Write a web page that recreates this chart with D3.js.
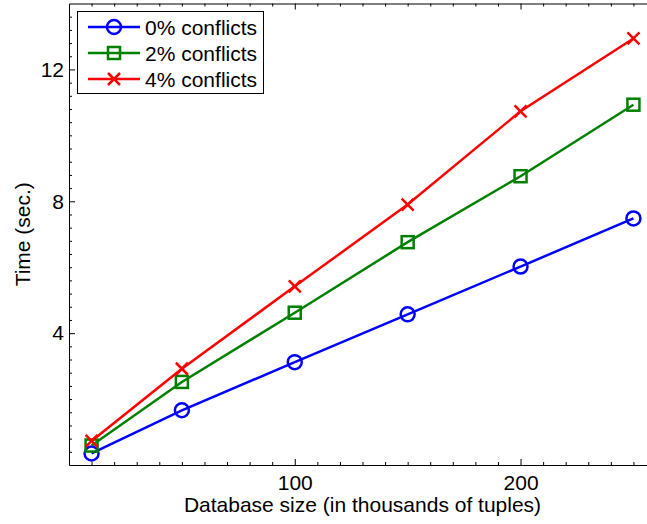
<!DOCTYPE html>
<html>
<head>
<meta charset="utf-8">
<script src="https://cdn.jsdelivr.net/npm/d3@7"></script>
<style>
  body { margin: 0; background: #fff; }
  svg text { font-family: "Liberation Sans", Arial, sans-serif; fill: #000; }
</style>
</head>
<body>
<svg id="chart" width="647" height="524"></svg>
<script>
// database sizes (thousands of tuples)
const sizes = [10, 50, 100, 150, 200, 250];
// time in seconds per conflict rate
const conf0 = [0.35, 1.66, 3.12, 4.57, 6.02, 7.48];
const conf2 = [0.59, 2.52, 4.62, 6.76, 8.76, 10.93];
const conf4 = [0.73, 2.92, 5.42, 7.90, 10.73, 12.94];
const seriesNames = ['0% conflicts', '2% conflicts', '4% conflicts'];
const xMajor = [100, 200];
const yMajor = [4, 8, 12];

const series = [
    { name: seriesNames[0], values: conf0, color: '#0000ff', marker: 'circle' },
    { name: seriesNames[1], values: conf2, color: '#008000', marker: 'square' },
    { name: seriesNames[2], values: conf4, color: '#ff0000', marker: 'cross' }
];

const svg = d3.select('#chart');
const mLeft = 69, mRight = 656, mTop = 3.5, mBottom = 465;
const fontSize = '21px';

const x = d3.scaleLinear().domain([0, 260]).range([mLeft, mRight]);
const y = d3.scaleLinear().domain([0, 14]).range([mBottom, mTop]);

const xMinor = d3.range(10, 260, 10).filter(v => !xMajor.includes(v));
const yMinor = d3.range(0.4, 14, 0.4).map(v => +v.toFixed(1)).filter(v => !yMajor.includes(v));

function styleAxis(g) {
    g.selectAll('path.domain').attr('stroke', '#000').attr('stroke-width', 1);
    g.selectAll('.tick line').attr('stroke', '#000').attr('stroke-width', 1);
    g.selectAll('text').attr('font-size', fontSize).attr('font-family', '"Liberation Sans", Arial, sans-serif');
}

// bottom axis
svg.append('g')
    .attr('transform', `translate(0,${mBottom})`)
    .call(d3.axisBottom(x).tickValues(xMinor).tickSize(-3).tickSizeOuter(0).tickFormat(''))
    .call(g => g.select('.domain').remove())
    .call(styleAxis);
svg.append('g')
    .attr('transform', `translate(0,${mBottom})`)
    .call(d3.axisBottom(x).tickValues(xMajor).tickSize(-6).tickSizeOuter(0).tickPadding(10).tickFormat(d3.format('d')))
    .call(styleAxis);

// top axis
svg.append('g')
    .attr('transform', `translate(0,${mTop})`)
    .call(d3.axisTop(x).tickValues(xMinor).tickSize(-3).tickSizeOuter(0).tickFormat(''))
    .call(g => g.select('.domain').remove())
    .call(styleAxis);
svg.append('g')
    .attr('transform', `translate(0,${mTop})`)
    .call(d3.axisTop(x).tickValues(xMajor).tickSize(-6).tickSizeOuter(0).tickFormat(''))
    .call(styleAxis);

// left axis
svg.append('g')
    .attr('transform', `translate(${mLeft},0)`)
    .call(d3.axisLeft(y).tickValues(yMinor).tickSize(-3).tickSizeOuter(0).tickFormat(''))
    .call(g => g.select('.domain').remove())
    .call(styleAxis);
svg.append('g')
    .attr('transform', `translate(${mLeft},0)`)
    .call(d3.axisLeft(y).tickValues(yMajor).tickSize(-6).tickSizeOuter(0).tickPadding(5).tickFormat(d3.format('d')))
    .call(styleAxis);

// axis titles
svg.append('text')
    .attr('x', (mLeft + mRight) / 2)
    .attr('y', 512)
    .attr('text-anchor', 'middle')
    .attr('font-size', fontSize)
    .text('Database size (in thousands of tuples)');

svg.append('text')
    .attr('transform', `translate(30,${(mTop + mBottom) / 2}) rotate(-90)`)
    .attr('text-anchor', 'middle')
    .attr('font-size', fontSize)
    .text('Time (sec.)');

const line = d3.line()
    .x((d, i) => x(sizes[i]))
    .y(d => y(d));

function drawMarker(g, type, color, cx, cy) {
    if (type === 'circle') {
        g.append('circle').attr('cx', cx).attr('cy', cy).attr('r', 7)
            .attr('fill', 'none').attr('stroke', color).attr('stroke-width', 2.5);
    } else if (type === 'square') {
        g.append('rect').attr('x', cx - 6).attr('y', cy - 6).attr('width', 12).attr('height', 12)
            .attr('fill', 'none').attr('stroke', color).attr('stroke-width', 2.5);
    } else {
        g.append('path')
            .attr('d', `M${cx - 6},${cy - 6}L${cx + 6},${cy + 6}M${cx - 6},${cy + 6}L${cx + 6},${cy - 6}`)
            .attr('stroke', color).attr('stroke-width', 2.5);
    }
}

series.forEach(s => {
    const g = svg.append('g');
    g.append('path')
        .datum(s.values)
        .attr('d', line)
        .attr('fill', 'none')
        .attr('stroke', s.color)
        .attr('stroke-width', 2.5);
    s.values.forEach((v, i) => drawMarker(g, s.marker, s.color, x(sizes[i]), y(v)));
});

// legend
const legend = svg.append('g');
legend.append('rect')
    .attr('x', 77.5).attr('y', 11.5)
    .attr('width', 186).attr('height', 82)
    .attr('fill', '#fff').attr('stroke', '#000').attr('stroke-width', 1);

series.forEach((s, i) => {
    const ly = 27 + i * 26;
    legend.append('line')
        .attr('x1', 88).attr('x2', 140).attr('y1', ly).attr('y2', ly)
        .attr('stroke', s.color).attr('stroke-width', 2.5);
    drawMarker(legend, s.marker, s.color, 114, ly);
    legend.append('text')
        .attr('x', 145).attr('y', ly + 7.5)
        .attr('font-size', fontSize)
        .text(s.name);
});
</script>
</body>
</html>
